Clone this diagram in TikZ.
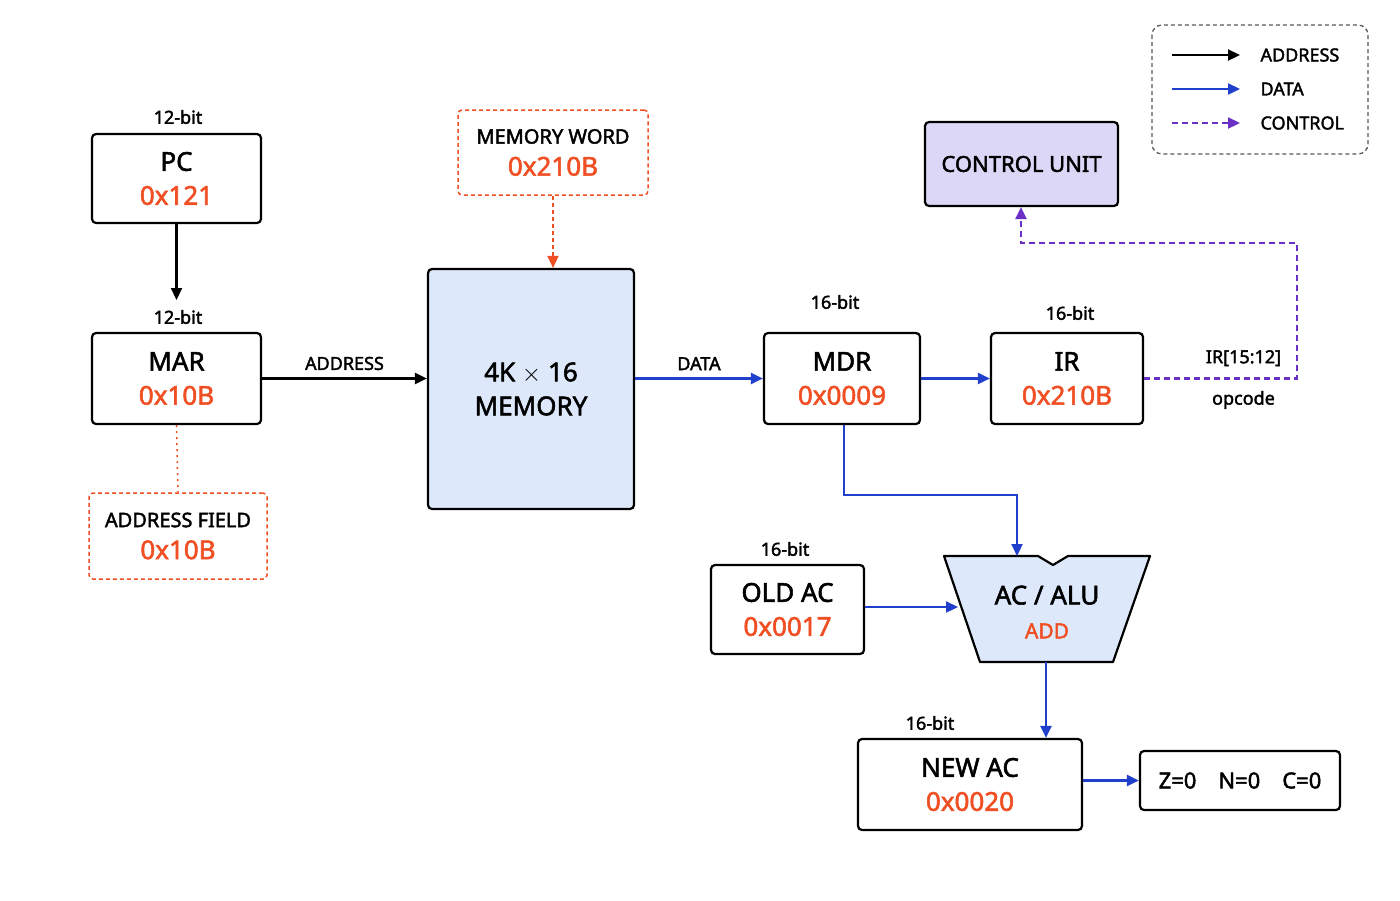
\documentclass[tikz,border=0pt]{standalone}
\usepackage{fontspec}
\setmainfont[AutoFakeBold=2]{Noto Sans}
\usetikzlibrary{arrows.meta,positioning}
\definecolor{hot}{HTML}{F04E23}
\definecolor{bus}{HTML}{1F3FCC}
\definecolor{ctl}{HTML}{6A2FC4}
\definecolor{memfill}{HTML}{DDE8FA}
\definecolor{cufill}{HTML}{DCD6F7}
\tikzset{
  reg/.style={draw, line width=2.2pt, rounded corners=4pt, align=center,
    inner sep=0pt, font=\fontsize{26}{34}\selectfont\bfseries},
  note/.style={reg, draw=hot, dashed, line width=1.5pt, dash pattern=on 4pt off 3pt,
    font=\fontsize{20}{32}\selectfont\bfseries},
  bits/.style={font=\fontsize{18}{20}\selectfont\bfseries},
  lbl/.style={font=\fontsize{18}{20}\selectfont\bfseries},
  addr/.style={-{Triangle[length=12pt,width=11pt]}, line width=2.2pt},
  dat/.style={addr, draw=bus},
  ctrl/.style={addr, draw=ctl, dash pattern=on 6pt off 4pt}
}
\newcommand{\hx}[1]{{\color{hot}#1}}
\begin{document}
\begin{tikzpicture}[x=1pt,y=-1pt]
  \useasboundingbox[fill=white] (0,0) rectangle (1400,900);

  % registers and memory
  \node[reg, minimum width=169pt, minimum height=89pt] (pc) at (176.5,178.5) {PC\\\hx{0x121}};
  \node[reg, minimum width=169pt, minimum height=91pt] (mar) at (176.5,378.5) {MAR\\\hx{0x10B}};
  \node[note, minimum width=178pt, minimum height=86pt] (field) at (178,536) {ADDRESS FIELD\\\hx{\fontsize{26}{30}\selectfont 0x10B}};
  \node[note, minimum width=190pt, minimum height=85pt] (word) at (553,152.5) {MEMORY WORD\\\hx{\fontsize{26}{30}\selectfont 0x210B}};
  \node[reg, fill=memfill, minimum width=206pt, minimum height=240pt] (mem) at (531,389) {4K $\times$ 16\\MEMORY};
  \node[reg, minimum width=156pt, minimum height=91pt] (mdr) at (842,378.5) {MDR\\\hx{0x0009}};
  \node[reg, minimum width=152pt, minimum height=91pt] (ir) at (1067,378.5) {IR\\\hx{0x210B}};
  \node[reg, fill=cufill, minimum width=193pt, minimum height=84pt,
    font=\fontsize{22}{28}\selectfont\bfseries] (cu) at (1021.5,164) {CONTROL UNIT};
  \node[reg, minimum width=153pt, minimum height=89pt] (old) at (787.5,609.5) {OLD AC\\\hx{0x0017}};
  \node[reg, minimum width=224pt, minimum height=91pt] (new) at (970,784.5) {NEW AC\\\hx{0x0020}};
  \node[reg, minimum width=200pt, minimum height=59pt,
    font=\fontsize{22}{28}\selectfont\bfseries] (flags) at (1240,780.5) {Z=0\quad N=0\quad C=0};

  % ALU
  \draw[line width=2.2pt, fill=memfill, line join=round]
    (944,556) -- (1038,556) -- (1053,565) -- (1068,556) -- (1150,556)
    -- (1113,662) -- (980,662) -- cycle;
  \node[align=center, font=\fontsize{26}{34}\selectfont\bfseries] (alu) at (1047,612)
    {AC / ALU\\\hx{\fontsize{21}{26}\selectfont ADD}};
  \coordinate (alutop) at (1017,556);
  \coordinate (aluleft) at (958,607);
  \coordinate (alubot) at (1046,662);
  \coordinate (marin) at (176.5,300);

  % widths
  \node[bits] at (178,117) {12-bit};
  \node[bits] at (178,317) {12-bit};
  \node[bits] at (835,302) {16-bit};
  \node[bits] at (1070,313) {16-bit};
  \node[bits] at (785,549) {16-bit};
  \node[bits] at (930,723) {16-bit};

  % paths
  \draw[addr] (pc) -- (marin);
  \draw[addr] (mar.east) -- node[lbl, above=4pt] {ADDRESS} (mem.west |- mar.east);
  \draw[dat] (mem.east |- mdr.west) -- node[lbl, above=4pt] {DATA} (mdr.west);
  \draw[dat] (mdr) -- (ir);
  \draw[dat] (mdr.south -| 844,0) -- (844,495) -- (1017,495) -- (alutop);
  \draw[dat] (old.east |- aluleft) -- (aluleft);
  \draw[dat] (alubot) -- (alubot |- new.north);
  \draw[dat] (new.east |- flags.west) -- (flags.west);
  \draw[ctrl] (ir.east) -- node[lbl, pos=0.65, above=8pt] {IR[15:12]}
    node[lbl, pos=0.65, below=8pt] {opcode} (1297,378.5) -- (1297,243) -- (1021,243) -- (cu.south -| 1021,0);
  \draw[addr, draw=hot, line width=1.5pt, dash pattern=on 4pt off 3pt]
    (word.south) -- (mem.north -| word.south);
  \draw[hot, line width=1.5pt, dash pattern=on 2pt off 4pt] (mar.south) -- (field.north);

  % legend
  \draw[gray!70!black, line width=1.3pt, dash pattern=on 4pt off 3pt, rounded corners=10pt] (1152,25) rectangle (1368,154);
  \foreach \y/\s/\t in {55/addr/ADDRESS, 89/dat/DATA, 123/ctrl/CONTROL} {
    \draw[\s] (1172,\y) -- (1240,\y);
    \node[lbl, anchor=west] at (1257,\y) {\t};
  }
\end{tikzpicture}
\end{document}
